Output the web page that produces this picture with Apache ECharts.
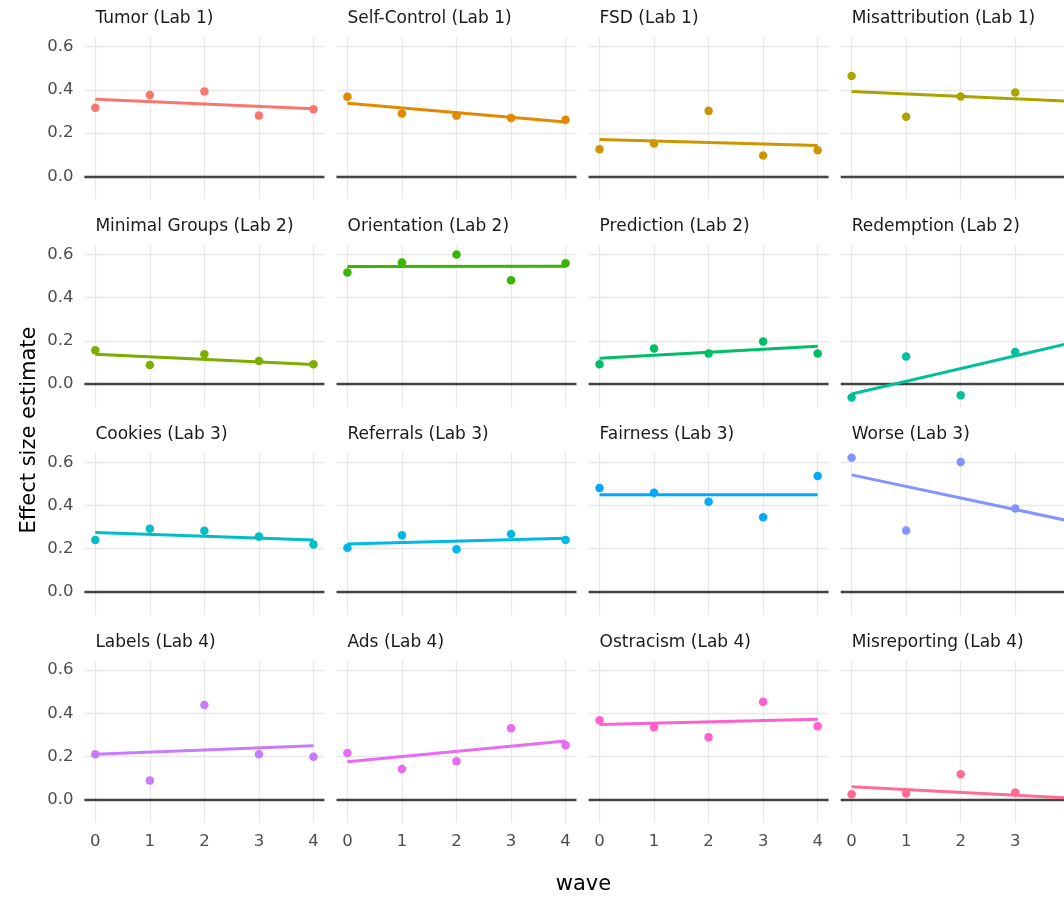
<!DOCTYPE html>
<html>
<head>
<meta charset="utf-8">
<script src="https://cdn.jsdelivr.net/npm/echarts@6/dist/echarts.min.js"></script>
<style>
html,body{margin:0;padding:0;background:#ffffff;}
#chart{width:1064px;height:901px;}
</style>
</head>
<body>
<div id="chart"></div>
<script>
// ---------------- data ----------------
const panelTitles = [
  "Tumor (Lab 1)", "Self-Control (Lab 1)", "FSD (Lab 1)", "Misattribution (Lab 1)",
  "Minimal Groups (Lab 2)", "Orientation (Lab 2)", "Prediction (Lab 2)", "Redemption (Lab 2)",
  "Cookies (Lab 3)", "Referrals (Lab 3)", "Fairness (Lab 3)", "Worse (Lab 3)",
  "Labels (Lab 4)", "Ads (Lab 4)", "Ostracism (Lab 4)", "Misreporting (Lab 4)"
];
const waves = [0, 1, 2, 3, 4];
const yTicks = [0, 0.2, 0.4, 0.6];

const tumor          = [0.318, 0.377, 0.393, 0.281, 0.311];
const selfControl    = [0.368, 0.291, 0.281, 0.270, 0.262];
const fsd            = [0.125, 0.152, 0.303, 0.096, 0.121];
const misattribution = [0.464, 0.276, 0.369, 0.388, 0.350];
const minimalGroups  = [0.157, 0.088, 0.138, 0.107, 0.092];
const orientation    = [0.517, 0.563, 0.600, 0.481, 0.560];
const prediction     = [0.092, 0.165, 0.142, 0.197, 0.142];
const redemption     = [-0.062, 0.128, -0.051, 0.149, 0.222];
const cookies        = [0.240, 0.293, 0.283, 0.256, 0.220];
const referrals      = [0.204, 0.262, 0.198, 0.268, 0.240];
const fairness       = [0.481, 0.459, 0.418, 0.346, 0.537];
const worse          = [0.621, 0.284, 0.602, 0.386, 0.303];
const labels         = [0.210, 0.089, 0.439, 0.210, 0.199];
const ads            = [0.216, 0.142, 0.178, 0.331, 0.252];
const ostracism      = [0.368, 0.335, 0.289, 0.453, 0.340];
const misreporting   = [0.025, 0.029, 0.118, 0.033, -0.043];

// fitted (lm) line values at wave 0 and wave 4
const fitAtWave0 = [0.357, 0.338, 0.170, 0.393, 0.138, 0.544, 0.120, -0.046,
                    0.275, 0.222, 0.450, 0.542, 0.210, 0.176, 0.348, 0.060];
const fitAtWave4 = [0.313, 0.252, 0.143, 0.347, 0.091, 0.546, 0.175, 0.190,
                    0.240, 0.248, 0.450, 0.328, 0.250, 0.272, 0.373, 0.008];

const panelValues = [tumor, selfControl, fsd, misattribution,
                     minimalGroups, orientation, prediction, redemption,
                     cookies, referrals, fairness, worse,
                     labels, ads, ostracism, misreporting];

// ---------------- style / layout ----------------
const palette = ["#F8766D", "#E38900", "#CD9600", "#ABA300", "#7CAE00", "#39B600", "#00BE67", "#00C09B",
                 "#00BFC4", "#00B8E7", "#00A9FF", "#8494FF", "#C77CFF", "#E76BF3", "#FF61CC", "#FF6C91"];
const FONT = '"DejaVu Sans", "Liberation Sans", Arial, sans-serif';
const LEFT0 = 84.4, DX = 252.1, TOP0 = 37, DY = 207.8, PW = 240, PH = 162;
const XMIN = -0.2, XMAX = 4.2, YMIN = -0.105, YMAX = 0.645;

const grids = [], xAxes = [], yAxes = [], series = [], graphics = [];
panelTitles.forEach((title, i) => {
  const r = Math.floor(i / 4), c = i % 4;
  const L = LEFT0 + c * DX, T = TOP0 + r * DY;
  grids.push({left: L, top: T, width: PW, height: PH, containLabel: false, outerBoundsMode: 'none'});
  xAxes.push({
    gridIndex: i, type: 'value', min: XMIN, max: XMAX,
    axisLine: {show: false}, axisTick: {show: false}, splitLine: {show: false},
    axisLabel: {show: r === 3, customValues: waves, margin: 11, color: '#4d4d4d',
                fontSize: 16.5, fontFamily: FONT, formatter: v => String(v)}
  });
  yAxes.push({
    gridIndex: i, type: 'value', min: YMIN, max: YMAX,
    axisLine: {show: false}, axisTick: {show: false}, splitLine: {show: false},
    axisLabel: {show: c === 0, customValues: yTicks, margin: 11, color: '#4d4d4d',
                fontSize: 16.5, fontFamily: FONT, formatter: v => Number(v).toFixed(1)}
  });
  const gridLineStyle = {color: '#e8e8e8', width: 1.3, type: 'solid'};
  const mlData = []
    .concat(waves.map(w => ({xAxis: w, lineStyle: gridLineStyle})))
    .concat(yTicks.map(v => ({yAxis: v, lineStyle: gridLineStyle})))
    .concat([{yAxis: 0, lineStyle: {color: '#444444', width: 2.4, type: 'solid'}}]);
  series.push({
    type: 'line', xAxisIndex: i, yAxisIndex: i, data: [], z: 1, silent: true,
    markLine: {silent: true, symbol: ['none', 'none'], label: {show: false}, animation: false,
               z: 1, emphasis: {disabled: true}, data: mlData}
  });
  series.push({
    type: 'line', xAxisIndex: i, yAxisIndex: i, z: 3, silent: true, animation: false,
    showSymbol: false, symbol: 'none',
    data: [[waves[0], fitAtWave0[i]], [waves[waves.length - 1], fitAtWave4[i]]],
    lineStyle: {color: palette[i], width: 3}
  });
  series.push({
    type: 'scatter', xAxisIndex: i, yAxisIndex: i, z: 4, silent: true, animation: false,
    symbolSize: 8.5,
    data: waves.map((w, k) => [w, panelValues[i][k]]),
    itemStyle: {color: palette[i], opacity: 1}
  });
  graphics.push({
    type: 'text', x: L + 11, y: T - 18, silent: true,
    style: {text: title, fill: '#1a1a1a', font: '17px ' + FONT, align: 'left', verticalAlign: 'middle'}
  });
});
graphics.push({
  type: 'text', x: 30, y: 430, rotation: Math.PI / 2, silent: true,
  style: {text: 'Effect size estimate', fill: '#000000', font: '21px ' + FONT, align: 'center', verticalAlign: 'middle'}
});
graphics.push({
  type: 'text', x: 583.5, y: 885, silent: true,
  style: {text: 'wave', fill: '#000000', font: '21px ' + FONT, align: 'center', verticalAlign: 'middle'}
});

const chart = echarts.init(document.getElementById('chart'), null, {renderer: 'canvas'});
chart.setOption({
  backgroundColor: '#ffffff',
  animation: false,
  grid: grids, xAxis: xAxes, yAxis: yAxes, series: series,
  graphic: graphics
});
</script>
</body>
</html>
